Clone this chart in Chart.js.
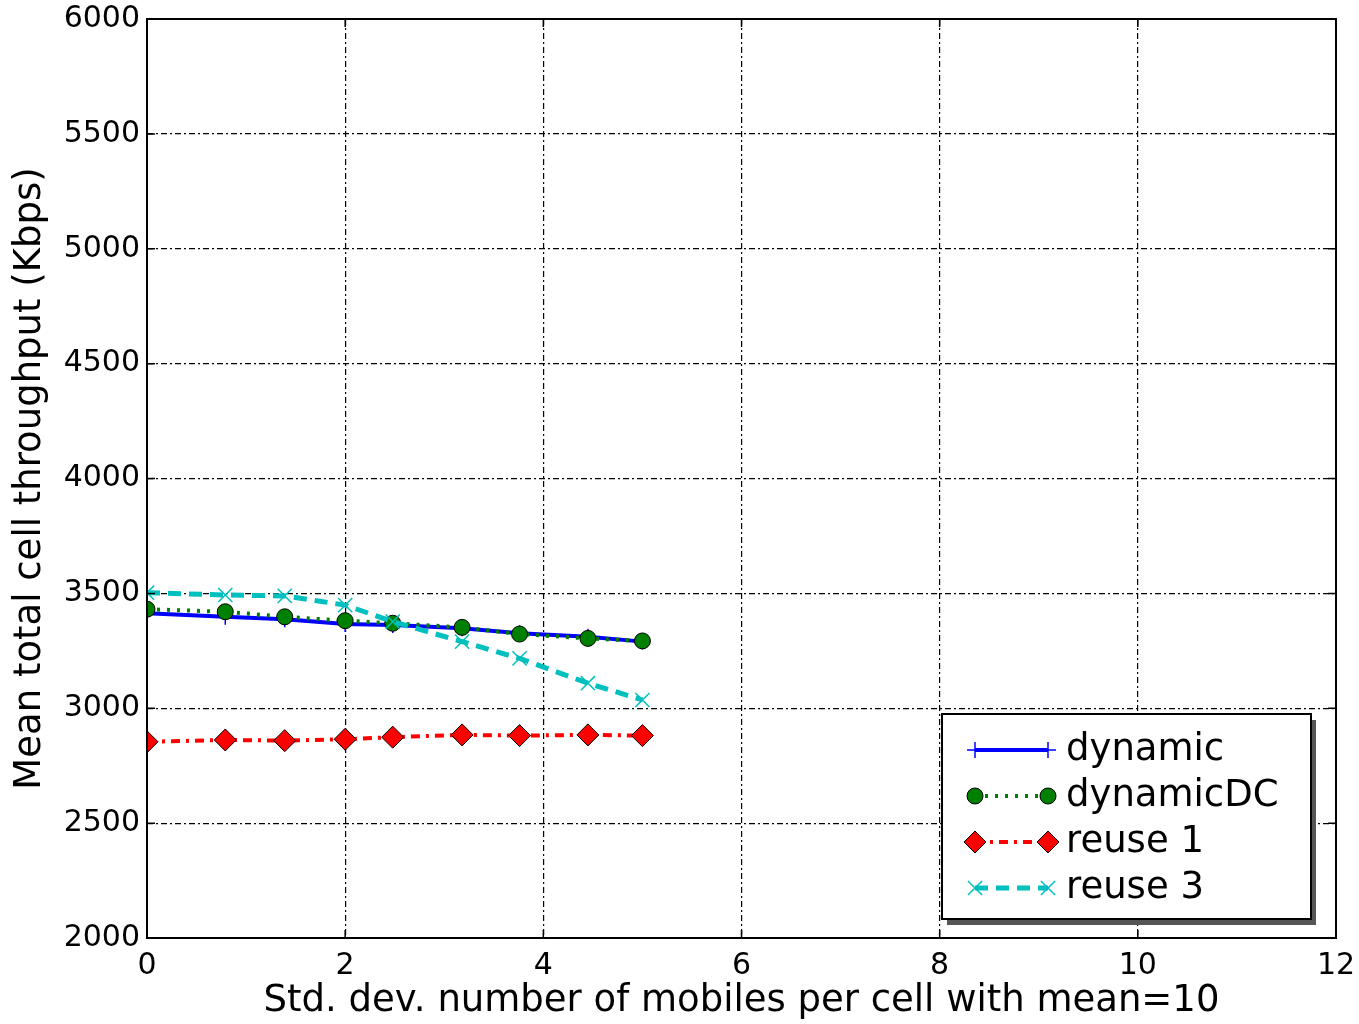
<!DOCTYPE html>
<html>
<head>
<meta charset="utf-8">
<script src="https://cdn.jsdelivr.net/npm/chart.js@4.4.1/dist/chart.umd.min.js"></script>
<style>
  html, body { margin: 0; padding: 0; background: #fff; }
  #wrap { width: 1359px; height: 1024px; }
</style>
</head>
<body>
<div id="wrap"><canvas id="lineCanvas" width="1359" height="1024"></canvas></div>
<script>
const lineCanvas = document.getElementById("lineCanvas");

// values
const stdDev = [0, 0.79, 1.39, 2.0, 2.48, 3.18, 3.76, 4.45, 5.0];
const dynamic = [3413, 3398, 3387, 3367, 3362, 3348, 3326, 3311, 3290];
const dynamicDC = [3431, 3420, 3398, 3381, 3370, 3352, 3323, 3304, 3293];
const reuse1 = [2854, 2862, 2859, 2865, 2874, 2884, 2881, 2884, 2881];
const reuse3 = [3503, 3493, 3489, 3449, 3377, 3290, 3217, 3109, 3036];
const xTicks = [0, 2, 4, 6, 8, 10, 12];
const yTicks = [2000, 2500, 3000, 3500, 4000, 4500, 5000, 5500, 6000];

const toPoints = (ys) => ys.map((y, i) => ({x: stdDev[i], y: y}));
const FONT = "'DejaVu Sans', sans-serif";

// plot frame with inward tick marks
const framePlugin = {
    id: "frame",
    afterDatasetsDraw(chart) {
        const {ctx, chartArea: a, scales} = chart;
        ctx.save();
        ctx.strokeStyle = "#000";
        ctx.lineWidth = 1.5;
        ctx.beginPath();
        xTicks.forEach(t => {
            const px = scales.x.getPixelForValue(t);
            ctx.moveTo(px, a.bottom); ctx.lineTo(px, a.bottom - 8);
            ctx.moveTo(px, a.top); ctx.lineTo(px, a.top + 8);
        });
        yTicks.forEach(t => {
            const py = scales.y.getPixelForValue(t);
            ctx.moveTo(a.left, py); ctx.lineTo(a.left + 8, py);
            ctx.moveTo(a.right, py); ctx.lineTo(a.right - 8, py);
        });
        ctx.stroke();
        ctx.lineWidth = 2;
        ctx.strokeRect(a.left, a.top, a.right - a.left, a.bottom - a.top);
        ctx.restore();
    }
};

// matplotlib-like legend box in the lower right corner
const boxLegend = {
    id: "boxLegend",
    afterDraw(chart) {
        const {ctx, chartArea: a} = chart;
        const w = 369, h = 205;
        const bx = a.right - 25 - w, by = a.bottom - 19 - h;
        ctx.save();
        ctx.fillStyle = "#555";
        ctx.fillRect(bx + 5, by + 6, w, h);
        ctx.fillStyle = "#fff";
        ctx.fillRect(bx, by, w, h);
        ctx.strokeStyle = "#000";
        ctx.lineWidth = 2;
        ctx.strokeRect(bx, by, w, h);

        chart.data.datasets.forEach((ds, i) => {
            const y = by + 36 + i * 46;
            const x0 = bx + 33, x1 = bx + 106;
            ctx.save();
            ctx.strokeStyle = ds.borderColor;
            ctx.lineWidth = ds.borderWidth;
            ctx.setLineDash(ds.borderDash || []);
            ctx.beginPath();
            ctx.moveTo(x0, y); ctx.lineTo(x1, y);
            ctx.stroke();
            ctx.restore();
            [x0, x1].forEach(px => {
                ctx.save();
                ctx.fillStyle = ds.pointBackgroundColor;
                ctx.strokeStyle = ds.pointBorderColor;
                ctx.lineWidth = ds.pointBorderWidth;
                Chart.helpers.drawPoint(ctx, {
                    pointStyle: ds.pointStyle,
                    radius: ds.pointRadius,
                    rotation: 0,
                    borderWidth: ds.pointBorderWidth
                }, px, y);
                ctx.restore();
            });
            ctx.fillStyle = "#000";
            ctx.font = "37px " + FONT;
            ctx.textBaseline = "middle";
            ctx.textAlign = "left";
            ctx.fillText(ds.label, bx + 124, y);
        });
        ctx.restore();
    }
};

const lineChart = new Chart(lineCanvas, {
    type: "line",
    data: {
        datasets: [{
            label: "dynamic",
            data: toPoints(dynamic),
            borderColor: "#0000ff",
            backgroundColor: "#0000ff",
            borderWidth: 4,
            pointStyle: "cross",
            pointRadius: 8,
            pointBorderWidth: 1.5,
            pointBorderColor: "#0000ff",
            pointBackgroundColor: "#0000ff",
            order: 4
        }, {
            label: "dynamicDC",
            data: toPoints(dynamicDC),
            borderColor: "#008000",
            backgroundColor: "#008000",
            borderWidth: 4,
            borderDash: [3, 7],
            pointStyle: "circle",
            pointRadius: 8,
            pointBorderWidth: 1,
            pointBorderColor: "#000",
            pointBackgroundColor: "#008000",
            order: 3
        }, {
            label: "reuse 1",
            data: toPoints(reuse1),
            borderColor: "#ff0000",
            backgroundColor: "#ff0000",
            borderWidth: 4,
            borderDash: [9, 6, 3, 6],
            pointStyle: "rectRot",
            pointRadius: 11,
            pointBorderWidth: 1,
            pointBorderColor: "#000",
            pointBackgroundColor: "#ff0000",
            order: 2
        }, {
            label: "reuse 3",
            data: toPoints(reuse3),
            borderColor: "#00bfbf",
            backgroundColor: "#00bfbf",
            borderWidth: 5,
            borderDash: [13, 8],
            pointStyle: "crossRot",
            pointRadius: 10,
            pointBorderWidth: 1.5,
            pointBorderColor: "#00bfbf",
            pointBackgroundColor: "#00bfbf",
            order: 1
        }]
    },
    options: {
        responsive: false,
        animation: false,
        layout: {
            padding: {left: 0, right: 23, top: 19, bottom: 0}
        },
        scales: {
            x: {
                type: "linear",
                min: 0,
                max: 12,
                afterBuildTicks: (scale) => { scale.ticks = xTicks.map(v => ({value: v})); },
                afterFit: (scale) => {
                    scale.height = 86;
                    scale.paddingLeft = 0;
                    scale.paddingRight = 0;
                },
                grid: {
                    color: "#000",
                    lineWidth: 1.2,
                    drawTicks: false
                },
                border: {display: false, dash: [6, 3, 2, 3]},
                ticks: {
                    color: "#000",
                    padding: 10,
                    maxRotation: 0,
                    font: {family: FONT, size: 30}
                },
                title: {
                    display: true,
                    text: "Std. dev. number of mobiles per cell with mean=10",
                    color: "#000",
                    padding: {top: 0, bottom: 0},
                    font: {family: FONT, size: 37}
                }
            },
            y: {
                min: 2000,
                max: 6000,
                afterBuildTicks: (scale) => { scale.ticks = yTicks.map(v => ({value: v})); },
                afterFit: (scale) => {
                    scale.width = 147;
                    scale.paddingTop = 0;
                    scale.paddingBottom = 0;
                },
                grid: {
                    color: "#000",
                    lineWidth: 1.2,
                    drawTicks: false
                },
                border: {display: false, dash: [6, 3, 2, 3]},
                ticks: {
                    color: "#000",
                    padding: 7,
                    callback: (v) => String(v),
                    font: {family: FONT, size: 30}
                },
                title: {
                    display: true,
                    text: "Mean total cell throughput (Kbps)",
                    color: "#000",
                    padding: {top: 8, bottom: 0},
                    font: {family: FONT, size: 37}
                }
            }
        },
        plugins: {
            legend: {display: false},
            tooltip: {enabled: false}
        }
    },
    plugins: [framePlugin, boxLegend]
});
</script>
</body>
</html>
